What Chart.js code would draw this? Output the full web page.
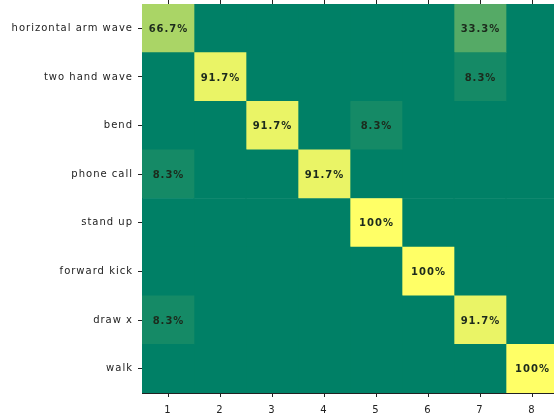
<!DOCTYPE html>
<html>
<head>
<meta charset="utf-8">
<script src="https://cdn.jsdelivr.net/npm/chart.js@4.4.1/dist/chart.umd.min.js"></script>
<style>
    html, body { margin: 0; padding: 0; background: #fff; overflow: hidden; }
    #wrap { position: absolute; left: 0; top: 0; width: 558px; height: 419px; }
</style>
</head>
<body>
<div id="wrap"><canvas id="cm" width="558" height="419"></canvas></div>
<script>
// 행 라벨 (실제 동작)
const actions = ['horizontal arm wave', 'two hand wave', 'bend', 'phone call', 'stand up', 'forward kick', 'draw x', 'walk'];
// 열 눈금 (예측 클래스)
const predicted = [1, 2, 3, 4, 5, 6, 7, 8];

// 행별 비율 (%)
const rowHorizontalArmWave = [66.7, 0, 0, 0, 0, 0, 33.3, 0];
const rowTwoHandWave       = [0, 91.7, 0, 0, 0, 0, 8.3, 0];
const rowBend              = [0, 0, 91.7, 0, 8.3, 0, 0, 0];
const rowPhoneCall         = [8.3, 0, 0, 91.7, 0, 0, 0, 0];
const rowStandUp           = [0, 0, 0, 0, 100, 0, 0, 0];
const rowForwardKick       = [0, 0, 0, 0, 0, 100, 0, 0];
const rowDrawX             = [8.3, 0, 0, 0, 0, 0, 91.7, 0];
const rowWalk              = [0, 0, 0, 0, 0, 0, 0, 100];

const matrix = [rowHorizontalArmWave, rowTwoHandWave, rowBend, rowPhoneCall,
                rowStandUp, rowForwardKick, rowDrawX, rowWalk];

// summer 컬러맵
function summer(t) {
    const r = Math.round(255 * t);
    const g = Math.round(255 * (0.5 + t / 2));
    const b = Math.round(255 * 0.4);
    return `rgb(${r}, ${g}, ${b})`;
}

function fmt(v) {
    return (v % 1 === 0 ? v.toFixed(0) : v.toFixed(1)) + '%';
}

// 열마다 하나의 데이터셋 (떠있는 막대)
const datasets = predicted.map((p, c) => ({
    label: String(p),
    data: actions.map(a => ({ x: [p - 0.5, p + 0.5], y: a })),
    values: matrix.map(row => row[c]),
    backgroundColor: matrix.map(row => summer(row[c] / 100)),
    borderWidth: 0,
    borderSkipped: false,
    categoryPercentage: 1,
    barPercentage: 1
}));

// 자간 설정
const spacing = {
    id: 'spacing',
    beforeDraw(chart) {
        chart.ctx.letterSpacing = '1px';
    }
};

// 셀 텍스트
const cellLabels = {
    id: 'cellLabels',
    afterDatasetsDraw(chart) {
        const ctx = chart.ctx;
        ctx.save();
        ctx.letterSpacing = '1px';
        ctx.font = 'bold 10px "DejaVu Sans"';
        ctx.fillStyle = '#1c2a1c';
        ctx.textAlign = 'center';
        ctx.textBaseline = 'middle';
        chart.data.datasets.forEach((ds, i) => {
            chart.getDatasetMeta(i).data.forEach((el, j) => {
                const v = ds.values[j];
                if (!v) return;
                const pt = el.getCenterPoint();
                ctx.fillText(fmt(v), pt.x + 0.5, pt.y + 1);
            });
        });
        ctx.restore();
    }
};

const tickFont = { family: 'DejaVu Sans', size: 10 };
const axisGrid = { drawOnChartArea: false, drawTicks: true, tickLength: 4, tickColor: '#222', offset: false };
const axisBorder = { display: true, color: '#222', width: 1 };
const intTicks = s => { s.ticks = predicted.map(v => ({ value: v })); };
const noPad = s => { s.paddingTop = 0; s.paddingBottom = 0; s.paddingLeft = 0; s.paddingRight = 0; };

new Chart(document.getElementById('cm'), {
    type: 'bar',
    data: { datasets },
    options: {
        indexAxis: 'y',
        responsive: false,
        animation: false,
        devicePixelRatio: 1,
        layout: { padding: 0 },
        plugins: { legend: { display: false }, tooltip: { enabled: false } },
        scales: {
            y: {
                type: 'category',
                labels: actions,
                stacked: true,
                offset: true,
                grid: axisGrid,
                border: axisBorder,
                ticks: { font: tickFont, color: '#222', padding: 5 },
                afterFit: s => { s.width = 142; noPad(s); }
            },
            x: {
                type: 'linear',
                position: 'bottom',
                min: 0.5,
                max: 8.5,
                grid: axisGrid,
                border: axisBorder,
                ticks: { font: tickFont, color: '#222', padding: 7 },
                afterBuildTicks: intTicks,
                afterFit: s => { s.height = 26; noPad(s); }
            },
            xTop: {
                type: 'linear',
                axis: 'x',
                position: 'top',
                min: 0.5,
                max: 8.5,
                grid: axisGrid,
                border: axisBorder,
                ticks: { display: false },
                afterBuildTicks: intTicks,
                afterFit: s => { s.height = 4; noPad(s); }
            }
        }
    },
    plugins: [spacing, cellLabels]
});
</script>
</body>
</html>
